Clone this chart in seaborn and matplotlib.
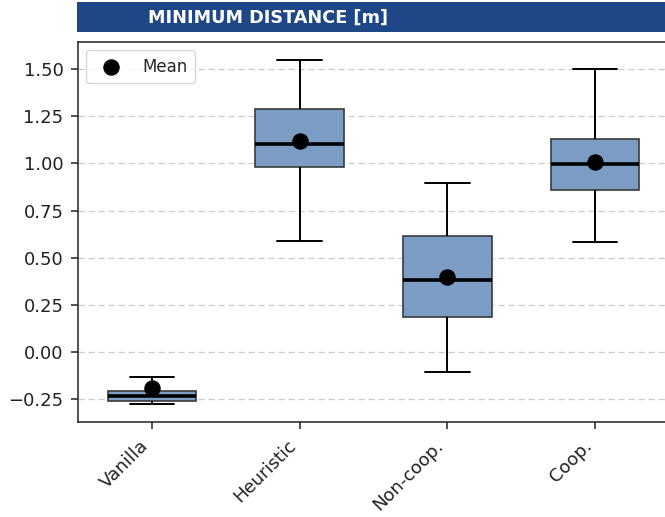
import numpy as np
import pandas as pd
import matplotlib
matplotlib.use("Agg")
import matplotlib.pyplot as plt
from matplotlib.patches import Rectangle
import seaborn as sns

# Per-method summary of minimum distance [m]
methods = ["Vanilla", "Heuristic", "Non-coop.", "Coop."]
whisker_low = [-0.275, 0.589, -0.106, 0.582]
q1 = [-0.260, 0.981, 0.186, 0.859]
median = [-0.235, 1.103, 0.382, 0.995]
q3 = [-0.207, 1.288, 0.617, 1.128]
whisker_high = [-0.131, 1.548, 0.896, 1.499]
mean = [-0.193, 1.119, 0.399, 1.009]

# Five-number rows per method so the boxplot reproduces the summary exactly
rows = []
for i, m in enumerate(methods):
    for v in (whisker_low[i], q1[i], median[i], q3[i], whisker_high[i]):
        rows.append({"method": m, "value": v})
df = pd.DataFrame(rows)
df_mean = pd.DataFrame({"method": methods, "value": mean})

sns.set_style("ticks")
plt.rcParams["font.family"] = ["DejaVu Sans"]

fig = plt.figure(figsize=(6.65, 5.17), dpi=100)
ax = fig.add_axes([78 / 665, 95 / 517, 591 / 665, 380 / 517])

box_color = "#7c9dc3"
sns.boxplot(
    data=df, x="method", y="value", order=methods, ax=ax,
    whis=(0, 100), width=0.6, color=box_color, saturation=1,
    boxprops=dict(facecolor=box_color, edgecolor="#3a3a3a", linewidth=1.2),
    medianprops=dict(color="black", linewidth=2.6),
    whiskerprops=dict(color="black", linewidth=1.4),
    capprops=dict(color="black", linewidth=1.4),
    showfliers=False, zorder=2,
)
sns.scatterplot(
    data=df_mean, x="method", y="value", ax=ax, color="black",
    s=120, edgecolor="black", label="Mean", zorder=5,
)

ax.set_xlim(-0.5, 3.5)
ax.set_ylim(-0.371, 1.644)
ax.set_yticks([-0.25, 0.0, 0.25, 0.5, 0.75, 1.0, 1.25, 1.5])
ax.set_yticklabels(["\u22120.25", "0.00", "0.25", "0.50", "0.75", "1.00", "1.25", "1.50"])
ax.yaxis.grid(True, linestyle=(0, (5, 3)), color="#cccccc", linewidth=0.9, zorder=0)
ax.set_axisbelow(True)
ax.set_xlabel("")
ax.set_ylabel("")
ax.tick_params(axis="both", labelsize=13, length=5, width=1.1, color="#222222",
               pad=5.5, labelcolor="#222222")
plt.setp(ax.get_xticklabels(), rotation=45, ha="right")
for s in ax.spines.values():
    s.set_linewidth(1.1)
    s.set_color("#222222")

leg = ax.legend(loc="upper left", fontsize=12, frameon=True, markerscale=1.0,
                borderpad=0.45, handletextpad=0.9)
leg.get_frame().set_edgecolor("#cccccc")

# Title banner
fig.patches.append(Rectangle((77 / 665, 485 / 517), 1 - 77 / 665, 30 / 517,
                             transform=fig.transFigure, facecolor="#1f4788",
                             edgecolor="none", zorder=0))
fig.text(148 / 665, 499 / 517, "MINIMUM DISTANCE [m]", color="white",
         fontsize=12.7, fontweight="bold", va="center", ha="left")

fig.savefig("out.png", dpi=100)
